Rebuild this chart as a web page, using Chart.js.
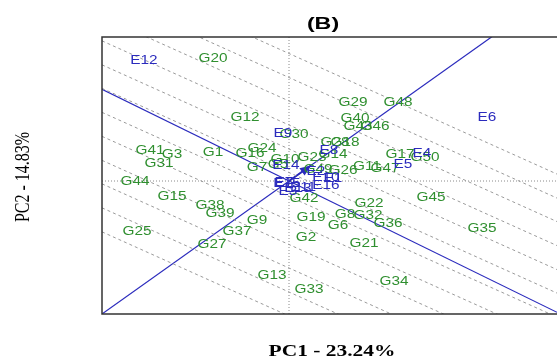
<!DOCTYPE html>
<html>
<head>
<meta charset="utf-8">
<script src="https://cdn.jsdelivr.net/npm/chart.js@4.4.1/dist/chart.umd.min.js"></script>
<style>
  body { margin: 0; background: #fff; }
  canvas { display: block; }
</style>
</head>
<body>
<canvas id="biplot" width="557" height="360"></canvas>
<script>
// genotype scores (PC1, PC2)
const genotypes = ["G1","G2","G3","G5","G6","G7","G8","G9","G10","G11","G12","G13","G14","G15","G16","G17","G18","G19","G20","G21","G22","G23","G24","G25","G26","G27","G28","G29","G30","G31","G32","G33","G34","G35","G36","G37","G38","G39","G40","G41","G42","G43","G44","G45","G46","G47","G48","G49","G50"];
const genoPC1 = [-1.52,0.34,-2.34,-0.22,0.98,-0.64,1.12,-0.64,-0.08,1.56,-0.88,-0.34,0.88,-2.34,-0.78,2.22,1.12,0.44,-1.52,1.50,1.60,0.46,-0.54,-3.04,1.08,-1.54,0.92,1.28,0.10,-2.60,1.58,0.40,2.10,3.86,1.98,-1.04,-1.58,-1.38,1.32,-2.78,0.30,1.38,-3.08,2.84,1.72,1.92,2.18,0.58,2.72];
const genoPC2 = [0.56,-1.14,0.52,0.32,-0.90,0.26,-0.68,-0.80,0.42,0.28,1.26,-1.90,0.52,-0.32,0.54,0.52,0.76,-0.74,2.44,-1.26,-0.46,0.46,0.64,-1.02,0.20,-1.28,0.76,1.56,0.92,0.34,-0.70,-2.18,-2.02,-0.96,-0.86,-1.02,-0.50,-0.66,1.24,0.60,-0.36,1.08,-0.02,-0.34,1.08,0.24,1.56,0.22,0.46];

// environment scores (PC1, PC2)
const envs = ["E1","E2","E3","E4","E5","E6","E7","E8","E9","E10","E11","E12","E13","E14","E15","E16"];
const envPC1 = [0.88,0.54,-0.02,2.66,2.28,3.96,-0.10,0.80,-0.12,0.74,0.28,-2.90,0.18,-0.06,-0.04,0.74];
const envPC2 = [0.04,0.18,-0.22,0.54,0.32,1.26,-0.04,0.60,0.94,0.06,-0.14,2.40,-0.16,0.30,-0.06,-0.10];

const xRange = [-3.74, 5.36];
const yRange = [-2.66, 2.88];
const aeaSlope = 0.711;      // average environment axis
const ordSlope = -0.49;      // axis through origin, perpendicular to it
const meanEnv = [0.44, 0.31];
const guideSlope = -0.45;
const guideIntercepts = [-2.70, -2.22, -1.74, -1.27, -0.79, -0.31, 0.17, 0.64, 1.12, 1.60, 2.07, 2.55];

const green = "#2f8f2f";
const blue = "#2b2bbd";

function lineThrough(slope, b) {
  return [
    { x: xRange[0], y: slope * xRange[0] + b },
    { x: xRange[1], y: slope * xRange[1] + b }
  ];
}

const datasets = [];

guideIntercepts.forEach(b => {
  datasets.push({
    data: lineThrough(guideSlope, b),
    showLine: true, pointRadius: 0,
    borderColor: "#9a9a9a", borderWidth: 1, borderDash: [3, 3]
  });
});

datasets.push({
  data: [{ x: 0, y: yRange[0] }, { x: 0, y: yRange[1] }],
  showLine: true, pointRadius: 0,
  borderColor: "#8a8a8a", borderWidth: 1, borderDash: [1, 2]
});
datasets.push({
  data: [{ x: xRange[0], y: 0 }, { x: xRange[1], y: 0 }],
  showLine: true, pointRadius: 0,
  borderColor: "#8a8a8a", borderWidth: 1, borderDash: [1, 2]
});

datasets.push({
  data: lineThrough(aeaSlope, 0),
  showLine: true, pointRadius: 0, borderColor: blue, borderWidth: 1.2
});
datasets.push({
  data: lineThrough(ordSlope, 0),
  showLine: true, pointRadius: 0, borderColor: blue, borderWidth: 1.2
});
datasets.push({
  data: [{ x: 0, y: 0 }, { x: meanEnv[0], y: meanEnv[1] }],
  showLine: true, pointRadius: 0, borderColor: blue, borderWidth: 2,
  arrow: true
});

datasets.push({
  data: genoPC1.map((v, i) => ({ x: v, y: genoPC2[i] })),
  pointRadius: 0, labels: genotypes, textColor: green
});
datasets.push({
  data: envPC1.map((v, i) => ({ x: v, y: envPC2[i] })),
  pointRadius: 0, labels: envs, textColor: blue
});

const biplotText = {
  id: "biplotText",
  afterDatasetsDraw(chart) {
    const ctx = chart.ctx;
    chart.data.datasets.forEach((ds, i) => {
      const meta = chart.getDatasetMeta(i);
      if (ds.arrow) {
        const p0 = meta.data[0], p1 = meta.data[1];
        const ang = Math.atan2(p1.y - p0.y, p1.x - p0.x);
        ctx.save();
        ctx.fillStyle = blue;
        ctx.translate(p1.x, p1.y);
        ctx.rotate(ang);
        ctx.beginPath();
        ctx.moveTo(0, 0);
        ctx.lineTo(-11, -4.5);
        ctx.lineTo(-11, 4.5);
        ctx.closePath();
        ctx.fill();
        ctx.restore();
      }
      if (!ds.labels) return;
      ctx.save();
      ctx.font = "12px 'Liberation Sans', Arial, sans-serif";
      ctx.fillStyle = ds.textColor;
      ctx.textAlign = "center";
      ctx.textBaseline = "middle";
      meta.data.forEach((pt, j) => {
        ctx.save();
        ctx.translate(pt.x, pt.y);
        ctx.scale(1.28, 1);
        ctx.fillText(ds.labels[j], 0, 0);
        ctx.restore();
      });
      ctx.restore();
    });
  },
  afterDraw(chart) {
    const ctx = chart.ctx;
    const a = chart.chartArea;
    ctx.save();
    ctx.strokeStyle = "#333";
    ctx.lineWidth = 1.5;
    ctx.beginPath();
    ctx.moveTo(a.right, a.top);
    ctx.lineTo(a.left, a.top);
    ctx.lineTo(a.left, a.bottom);
    ctx.lineTo(a.right, a.bottom);
    ctx.stroke();

    ctx.fillStyle = "#000";
    ctx.textAlign = "center";
    ctx.textBaseline = "middle";

    ctx.save();
    ctx.font = "bold 16px 'Liberation Sans', Arial, sans-serif";
    ctx.translate(323, 25);
    ctx.scale(1.45, 1);
    ctx.fillText("(B)", 0, 0);
    ctx.restore();

    ctx.save();
    ctx.font = "bold 16px 'Liberation Serif', 'Times New Roman', serif";
    ctx.translate(332, 352);
    ctx.scale(1.34, 1);
    ctx.fillText("PC1 - 23.24%", 0, 0);
    ctx.restore();

    ctx.save();
    ctx.font = "16px 'Liberation Serif', 'Times New Roman', serif";
    ctx.translate(23, 177);
    ctx.rotate(-Math.PI / 2);
    ctx.scale(1, 1.35);
    ctx.fillText("PC2 - 14.83%", 0, 0);
    ctx.restore();

    ctx.restore();
  }
};

new Chart(document.getElementById("biplot").getContext("2d"), {
  type: "scatter",
  data: { datasets },
  options: {
    responsive: false,
    animation: false,
    layout: { padding: { left: 102, top: 37, right: 0, bottom: 46 } },
    plugins: { legend: { display: false }, tooltip: { enabled: false } },
    scales: {
      x: { type: "linear", min: xRange[0], max: xRange[1], display: false },
      y: { type: "linear", min: yRange[0], max: yRange[1], display: false }
    }
  },
  plugins: [biplotText]
});
</script>
</body>
</html>
